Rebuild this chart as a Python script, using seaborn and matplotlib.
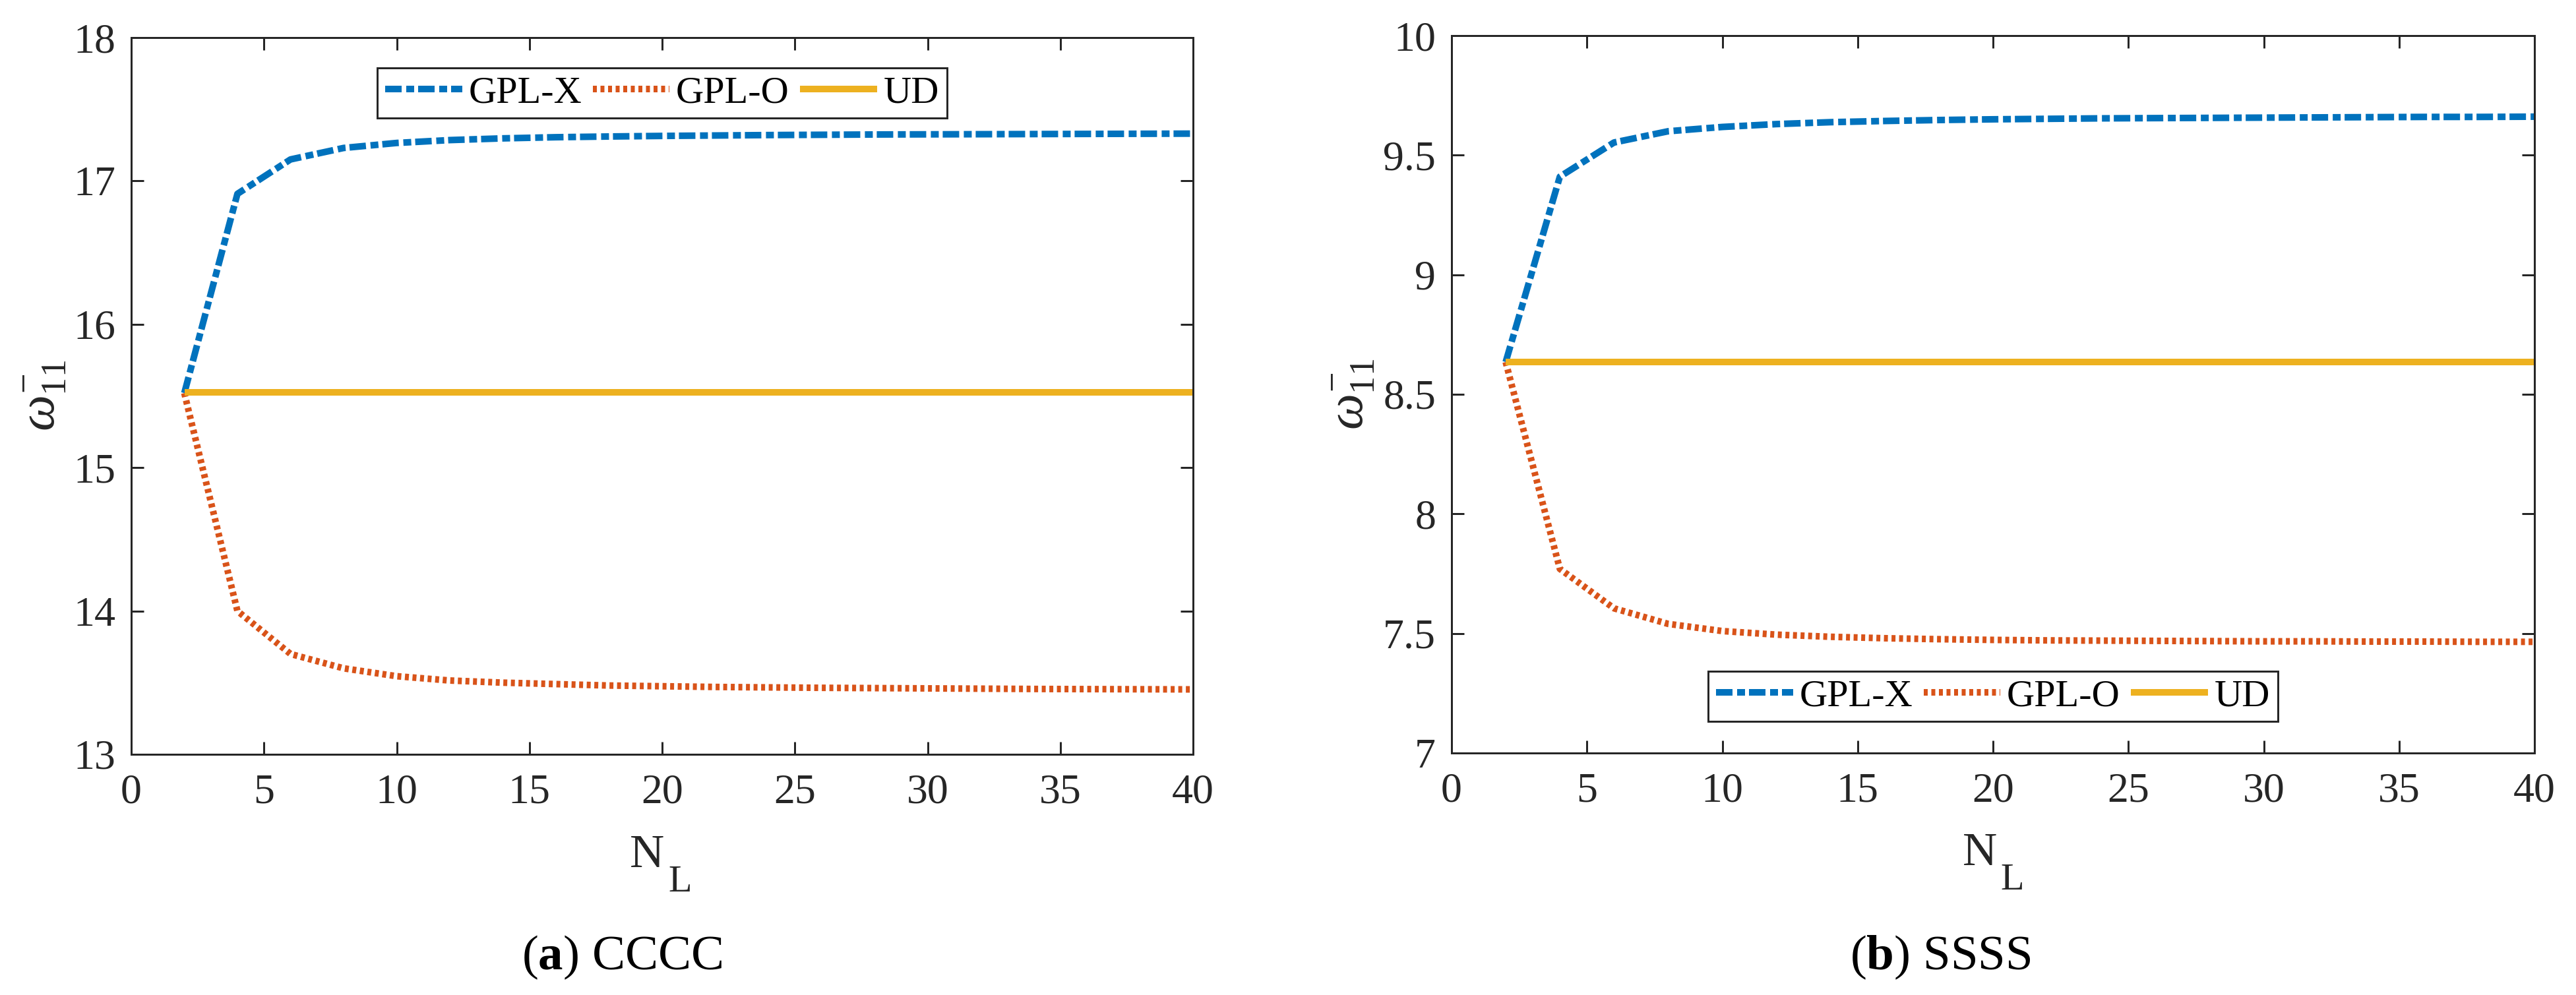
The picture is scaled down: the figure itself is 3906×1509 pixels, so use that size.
import numpy as np
import pandas as pd
import matplotlib
matplotlib.use("Agg")
import matplotlib.pyplot as plt
from matplotlib.ticker import FuncFormatter, MultipleLocator
from matplotlib.lines import Line2D
import seaborn as sns

# ---------------- data ----------------
n_layers = [2, 4, 6, 8, 10, 12, 14, 16, 18, 20, 22, 24, 26, 28, 30, 32, 34, 36, 38, 40]

cccc_gplx = [15.52, 16.91, 17.15, 17.23, 17.265, 17.285, 17.297, 17.305, 17.31, 17.314,
             17.317, 17.32, 17.322, 17.324, 17.325, 17.326, 17.327, 17.328, 17.329, 17.33]
cccc_gplo = [15.52, 14.00, 13.70, 13.60, 13.545, 13.515, 13.50, 13.49, 13.48, 13.475,
             13.47, 13.467, 13.464, 13.462, 13.46, 13.458, 13.456, 13.455, 13.454, 13.453]
cccc_ud = [15.525] * 20

ssss_gplx = [8.635, 9.41, 9.553, 9.60, 9.618, 9.63, 9.638, 9.643, 9.647, 9.65,
             9.652, 9.654, 9.655, 9.656, 9.657, 9.658, 9.659, 9.66, 9.66, 9.661]
ssss_gplo = [8.635, 7.77, 7.605, 7.54, 7.51, 7.495, 7.486, 7.48, 7.476, 7.473,
             7.471, 7.47, 7.469, 7.468, 7.467, 7.467, 7.466, 7.466, 7.465, 7.465]
ssss_ud = [8.635] * 20

series_names = ["GPL-X", "GPL-O", "UD"]
captions = [r"($\mathbf{a}$) CCCC", r"($\mathbf{b}$) SSSS"]
ylims = [(13, 18), (7, 10)]
ysteps = [1, 0.5]

# ---------------- style ----------------
sns.set_theme(style="ticks")
plt.rcParams["font.family"] = ["Liberation Serif", "DejaVu Serif"]
plt.rcParams["mathtext.fontset"] = "custom"
plt.rcParams["mathtext.rm"] = "Liberation Serif"
plt.rcParams["mathtext.it"] = "Liberation Serif:italic"
plt.rcParams["mathtext.bf"] = "Liberation Serif:bold"

DPI = 100
px = 72.0 / DPI  # points per pixel
AX_COL = "#262626"
colors = {"GPL-X": "#0072BD", "GPL-O": "#D95319", "UD": "#EDB120"}
styles = {"GPL-X": (0, (2.5, 0.7, 1.2, 0.6)),
          "GPL-O": (0, (0.6, 0.55)),
          "UD": "-"}
LW = 10 * px

fig = plt.figure(figsize=(39.06, 15.09), dpi=DPI)
fig.patch.set_facecolor("white")

axes_rects = [
    [199 / 3906, 1 - 1144 / 1509, (1809 - 199) / 3906, (1144 - 57) / 1509],
    [2201 / 3906, 1 - 1142 / 1509, (3843 - 2201) / 3906, (1142 - 54) / 1509],
]
datasets = [
    {"GPL-X": cccc_gplx, "GPL-O": cccc_gplo, "UD": cccc_ud},
    {"GPL-X": ssss_gplx, "GPL-O": ssss_gplo, "UD": ssss_ud},
]
legend_loc = [("upper center", (0.5, 0.958)), ("lower center", (0.5, 0.044))]
ylabel_x = [-0.060, -0.070]
caption_x = [943 / 3906, 2942 / 3906]
n_label_pos = [(0.502, -0.1573, 0.5056, -0.1914), (0.504, -0.1562, 0.507, -0.1900)]

for i in range(2):
    ax = fig.add_axes(axes_rects[i])
    ax.set_facecolor("white")
    data = datasets[i]
    for name in series_names:
        df = pd.DataFrame({"N": n_layers, "w": data[name]})
        sns.lineplot(data=df, x="N", y="w", ax=ax, color=colors[name],
                     linewidth=LW, linestyle=styles[name], label=None,
                     solid_capstyle="butt", dash_capstyle="butt")
    ax.set_xlim(0, 40)
    ax.set_ylim(*ylims[i])
    ax.xaxis.set_major_locator(MultipleLocator(5))
    ax.yaxis.set_major_locator(MultipleLocator(ysteps[i]))
    ax.yaxis.set_major_formatter(FuncFormatter(lambda v, p: "%g" % v))
    ax.xaxis.set_major_formatter(FuncFormatter(lambda v, p: "%g" % v))

    for s in ax.spines.values():
        s.set_visible(True)
        s.set_color(AX_COL)
        s.set_linewidth(3 * px)
    ax.tick_params(axis="both", which="major", direction="in", length=19 * px,
                   width=3 * px, color=AX_COL, labelcolor=AX_COL,
                   labelsize=46, top=True, right=True)
    ax.tick_params(axis="x", pad=30 * px)
    ax.tick_params(axis="y", pad=24 * px)

    # x label  N_L  (MATLAB-style large, deep subscript)
    ax.set_xlabel("")
    nx, ny, lx, ly = n_label_pos[i]
    ax.text(nx, ny, "N", transform=ax.transAxes, ha="right", va="baseline",
            fontsize=52, color=AX_COL)
    ax.text(lx, ly, "L", transform=ax.transAxes, ha="left", va="baseline",
            fontsize=42, color=AX_COL)

    ax.set_ylabel(r"$\omega^{-}_{11}$", fontsize=56, color=AX_COL)
    ax.yaxis.set_label_coords(ylabel_x[i], 0.5)

    handles = [Line2D([0], [0], color=colors[n], linewidth=LW, linestyle=styles[n],
                      solid_capstyle="butt", dash_capstyle="butt") for n in series_names]
    loc, anchor = legend_loc[i]
    leg = ax.legend(handles, series_names, loc=loc, bbox_to_anchor=anchor, ncol=3,
                    fontsize=42, frameon=True, fancybox=False, framealpha=1,
                    edgecolor=AX_COL, handlelength=2.0, handletextpad=0.17,
                    columnspacing=0.28, borderpad=0.2, borderaxespad=0)
    leg.get_frame().set_linewidth(3 * px)
    for t in leg.get_texts():
        t.set_color("black")

    fig.text(caption_x[i], 1 - 1452 / 1509, captions[i], fontsize=54,
             ha="center", va="center", color="black")

fig.savefig("out.png", dpi=DPI, facecolor="white")
